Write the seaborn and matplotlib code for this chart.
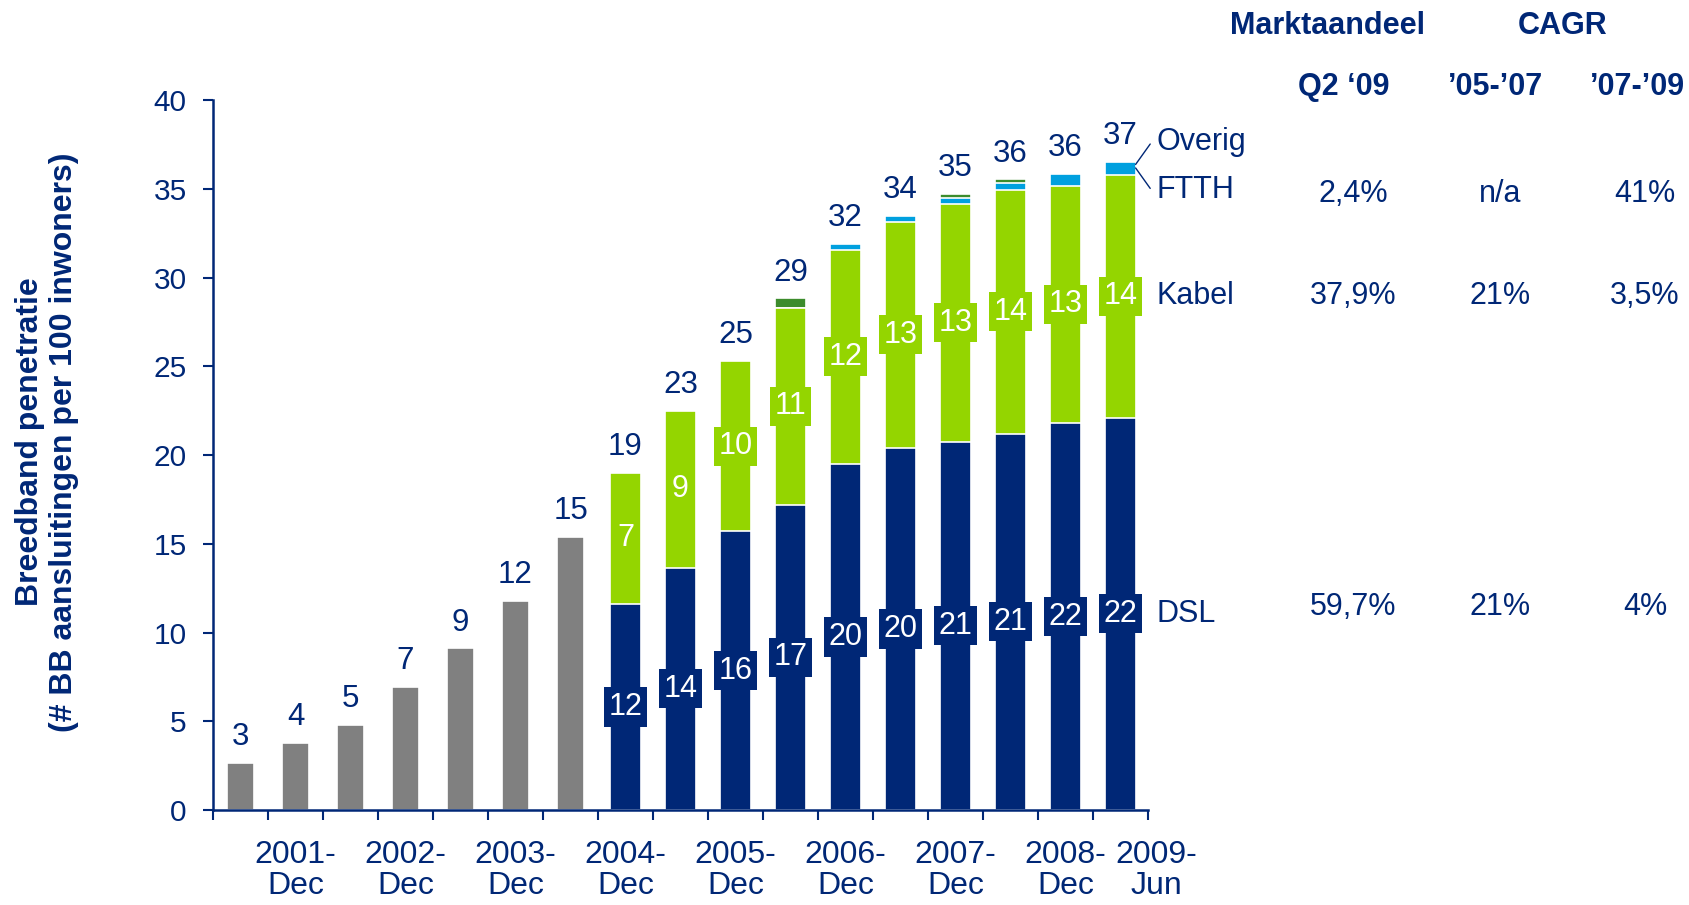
import numpy as np
import pandas as pd
import seaborn as sns
import matplotlib
matplotlib.use('Agg')
import matplotlib.pyplot as plt
import matplotlib.transforms as mtransforms

sns.set_theme(style="white")
plt.rcParams['font.family'] = ['Liberation Sans', 'DejaVu Sans']

NAVY = '#002776'
GREEN = '#94D500'
GRAY = '#808080'
BLUE = '#00A0DF'
DKGREEN = '#3C8C2C'

# half-yearly periods
periods = ['2001-Jun', '2001-Dec', '2002-Jun', '2002-Dec', '2003-Jun', '2003-Dec',
           '2004-Jun', '2004-Dec', '2005-Jun', '2005-Dec', '2006-Jun', '2006-Dec',
           '2007-Jun', '2007-Dec', '2008-Jun', '2008-Dec', '2009-Jun']

# total only (no split) for the first periods
early_total = [2.65, 3.8, 4.8, 6.95, 9.1, 11.8, 15.4]
# split from 2004-Dec on
dsl = [11.6, 13.65, 15.7, 17.2, 19.5, 20.4, 20.75, 21.2, 21.8, 22.1]
kabel = [7.4, 8.85, 9.6, 11.08, 12.06, 12.74, 13.41, 13.75, 13.37, 13.66]
ftth = [0, 0, 0, 0, 0.33, 0.33, 0.34, 0.35, 0.66, 0.76]
overig = [0, 0, 0, 0.55, 0, 0, 0.22, 0.23, 0, 0]

total_labels = [3, 4, 5, 7, 9, 12, 15, 19, 23, 25, 29, 32, 34, 35, 36, 36, 37]
dsl_labels = [12, 14, 16, 17, 20, 20, 21, 21, 22, 22]
kabel_labels = [7, 9, 10, 11, 12, 13, 13, 14, 13, 14]

tick_periods = ['2001-Dec', '2002-Dec', '2003-Dec', '2004-Dec', '2005-Dec',
                '2006-Dec', '2007-Dec', '2008-Dec', '2009-Jun']
tick_labels = ['2001-\nDec', '2002-\nDec', '2003-\nDec', '2004-\nDec', '2005-\nDec',
               '2006-\nDec', '2007-\nDec', '2008-\nDec', '2009-\nJun']

table_header = ['Marktaandeel', 'CAGR']
table_sub = ['Q2 \u201809', '\u201905-\u201907', '\u201907-\u201909']
series_names = ['Overig', 'FTTH', 'Kabel', 'DSL']
share_q2_09 = ['2,4%', '37,9%', '59,7%']
cagr_05_07 = ['n/a', '21%', '21%']
cagr_07_09 = ['41%', '3,5%', '4%']

n_early = len(early_total)
pad0 = [0] * n_early
df = pd.DataFrame({'period': periods})
df['gray'] = early_total + [0] * len(dsl)
df['dsl'] = pad0 + dsl
df['c_kabel'] = df['dsl'] + np.array(pad0 + kabel)
df['c_ftth'] = df['c_kabel'] + np.array(pad0 + ftth)
df['c_overig'] = df['c_ftth'] + np.array(pad0 + overig)
df['top'] = np.maximum(df['gray'], df['c_overig'])

W, H = 1690, 905
fig = plt.figure(figsize=(16.9, 9.05), dpi=100)
ax = fig.add_axes([213 / W, 1 - 810 / H, (1148 - 213) / W, 710 / H])

bw = 0.55
for col, colr in [('c_overig', DKGREEN), ('c_ftth', BLUE), ('c_kabel', GREEN), ('dsl', NAVY)]:
    sns.barplot(data=df, x='period', y=col, order=periods, color=colr, saturation=1,
                width=bw, edgecolor='white', linewidth=1.2, errorbar=None, ax=ax)
sns.barplot(data=df, x='period', y='gray', order=periods, color=GRAY, saturation=1,
            width=0.5, edgecolor='white', linewidth=1.2, errorbar=None, ax=ax)

ax.set_xlim(-0.5, len(periods) - 0.5)
ax.set_ylim(0, 40)
ax.set_xlabel('')
ax.set_ylabel('')
ax.set_yticks(np.arange(0, 41, 5))
ax.set_xticks(np.arange(-0.5, len(periods), 1))
ax.set_xticklabels([])
ax.tick_params(axis='y', direction='out', length=7, width=1.5, color=NAVY,
               labelcolor=NAVY, labelsize=21.5, pad=12, left=True)
ax.tick_params(axis='x', direction='out', length=7, width=1.5, color=NAVY, bottom=True)
for s in ['top', 'right']:
    ax.spines[s].set_visible(False)
for s in ['left', 'bottom']:
    ax.spines[s].set_color(NAVY)
    ax.spines[s].set_linewidth(1.8)

# x labels under the December bars
trans = mtransforms.blended_transform_factory(ax.transData, ax.transAxes)
for p, lab in zip(tick_periods, tick_labels):
    xi = periods.index(p)
    if p.endswith('Jun'):
        xi += 0.65
    ax.text(xi, -0.085, lab, transform=trans, ha='center', va='center',
            fontsize=23, color=NAVY, linespacing=1.05)

# totals above bars
for i, lab in enumerate(total_labels):
    ax.text(i, df['top'][i] + 1.45, str(lab), ha='center', va='center',
            fontsize=22.5, color=NAVY)

# boxed labels inside segments
for j in range(len(dsl)):
    i = n_early + j
    ax.text(i, dsl[j] / 2, str(dsl_labels[j]), ha='center', va='center', fontsize=22,
            color='white', bbox=dict(boxstyle='square,pad=0.15', fc=NAVY, ec='none'))
    ax.text(i, dsl[j] + kabel[j] / 2, str(kabel_labels[j]), ha='center', va='center',
            fontsize=22, color='white',
            bbox=dict(boxstyle='square,pad=0.15', fc=GREEN, ec='none'))

# series names right of the last bar
last = len(periods) - 1
x_name = last + 0.66
top_last = df['top'][last]
name_y = [top_last + 1.1, top_last - 1.6, dsl[-1] + kabel[-1] / 2, dsl[-1] / 2]
for nm, yv in zip(series_names, name_y):
    ax.text(x_name, yv, nm, ha='left', va='center', fontsize=22, color=NAVY, clip_on=False)
ax.plot([last + bw / 2, x_name - 0.12], [top_last - 0.15, name_y[0] - 0.1],
        color=NAVY, lw=1, clip_on=False)
ax.plot([last + bw / 2, x_name - 0.12], [top_last - 0.35, name_y[1] + 0.1],
        color=NAVY, lw=1, clip_on=False)

# table on the right
def ftxt(x, y, s, **kw):
    fig.text(x / W, 1 - y / H, s, ha='center', va='center', color=NAVY, **kw)

ftxt(1328, 26, table_header[0], fontsize=22, fontweight='bold')
ftxt(1563, 26, table_header[1], fontsize=22, fontweight='bold')
for xc, s in zip([1344, 1496, 1638], table_sub):
    ftxt(xc, 87, s, fontsize=22, fontweight='bold')
row_y = [194, 296, 607]
for k, yv in enumerate(row_y):
    ftxt(1353, yv, share_q2_09[k], fontsize=22)
    ftxt(1500, yv, cagr_05_07[k], fontsize=22)
    ftxt(1645, yv, cagr_07_09[k], fontsize=22)

fig.text(47 / W, 1 - 442 / H, 'Breedband penetratie\n(# BB aansluitingen per 100 inwoners)',
         rotation=90, ha='center', va='center', fontsize=23, fontweight='bold',
         color=NAVY, linespacing=1.15, multialignment='center')

fig.savefig('out.png', dpi=100)
